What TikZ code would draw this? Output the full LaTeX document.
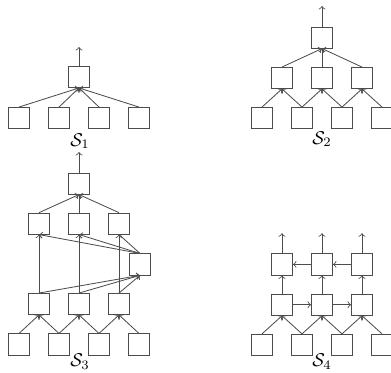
\documentclass[tikz,border=0pt]{standalone}
\usepackage{tikz}
\tikzset{
    every node/.style={
        text=black
    },
    every path/.style={
        color=black!70,
        line width=0.45pt
    }
}
\tikzstyle{cell}=[draw, minimum size=0.4cm, inner sep=0pt]
\tikzstyle{flow}=[->, >=to]

\begin{document}
\begin{tikzpicture}[x=0.76cm, y=0.76cm]
\useasboundingbox (0,0) rectangle (9.775,-9.3);

% S1
\node[cell] (A0) at (1.975, -1.925) {};
\node[cell] (A1) at (0.475, -2.95) {};
\node[cell] (A2) at (1.475, -2.95) {};
\node[cell] (A3) at (2.475, -2.95) {};
\node[cell] (A4) at (3.475, -2.95) {};
\node (LA) at (2.0, -3.53) {$\mathcal{S}_1$};
\coordinate (OA) at (1.975, -1.175);

\path [flow] (A1.north) edge (A0.south);
\path [flow] (A2.north) edge (A0.south);
\path [flow] (A3.north) edge (A0.south);
\path [flow] (A4.north) edge (A0.south);
\draw [flow] (A0) -- (OA);

% S2
\node[cell] (B0) at (8.05, -0.94) {};
\node[cell] (B5) at (7.05, -1.95) {};
\node[cell] (B6) at (8.05, -1.95) {};
\node[cell] (B7) at (9.05, -1.95) {};
\node[cell] (B1) at (6.55, -2.95) {};
\node[cell] (B2) at (7.55, -2.95) {};
\node[cell] (B3) at (8.55, -2.95) {};
\node[cell] (B4) at (9.55, -2.95) {};
\node (LB) at (8.05, -3.48) {$\mathcal{S}_2$};
\coordinate (OB) at (8.05, -0.15);

\path [flow] (B1.north) edge (B5.south);
\path [flow] (B2.north) edge (B5.south);
\path [flow] (B2.north) edge (B6.south);
\path [flow] (B3.north) edge (B6.south);
\path [flow] (B3.north) edge (B7.south);
\path [flow] (B4.north) edge (B7.south);
\path [flow] (B5.north) edge (B0.south);
\path [flow] (B6.north) edge (B0.south);
\path [flow] (B7.north) edge (B0.south);
\draw [flow] (B0) -- (OB);

% S3
\node[cell] (C0) at (1.975, -4.59) {};
\node[cell] (C8) at (0.975, -5.59) {};
\node[cell] (C9) at (1.975, -5.59) {};
\node[cell] (C10) at (2.975, -5.59) {};
\node[cell] (CR) at (3.5, -6.61) {};
\node[cell] (C5) at (0.975, -7.6) {};
\node[cell] (C6) at (1.975, -7.6) {};
\node[cell] (C7) at (2.975, -7.6) {};
\node[cell] (C1) at (0.475, -8.61) {};
\node[cell] (C2) at (1.475, -8.61) {};
\node[cell] (C3) at (2.475, -8.61) {};
\node[cell] (C4) at (3.475, -8.61) {};
\node (LC) at (2.0, -9.04) {$\mathcal{S}_3$};
\coordinate (OC) at (1.975, -3.8);

\path [flow] (C1.north) edge (C5.south);
\path [flow] (C2.north) edge (C5.south);
\path [flow] (C2.north) edge (C6.south);
\path [flow] (C3.north) edge (C6.south);
\path [flow] (C3.north) edge (C7.south);
\path [flow] (C4.north) edge (C7.south);
\path [flow] (C5.north) edge (C8.south);
\path [flow] (C6.north) edge (C9.south);
\path [flow] (C7.north) edge (C10.south);
\path [flow] (C5.north) edge (CR.south);
\path [flow] (C6.north) edge (CR.south);
\path [flow] (C7.north) edge (CR.south);
\path [flow] (CR.north) edge (C8.south);
\path [flow] (CR.north) edge (C9.south);
\path [flow] (CR.north) edge (C10.south);
\path [flow] (C8.north) edge (C0.south);
\path [flow] (C9.north) edge (C0.south);
\path [flow] (C10.north) edge (C0.south);
\draw [flow] (C0) -- (OC);

% S4
\node[cell] (D8) at (7.05, -6.61) {};
\node[cell] (D9) at (8.05, -6.61) {};
\node[cell] (D10) at (9.05, -6.61) {};
\node[cell] (D5) at (7.05, -7.62) {};
\node[cell] (D6) at (8.05, -7.62) {};
\node[cell] (D7) at (9.05, -7.62) {};
\node[cell] (D1) at (6.55, -8.62) {};
\node[cell] (D2) at (7.55, -8.62) {};
\node[cell] (D3) at (8.55, -8.62) {};
\node[cell] (D4) at (9.55, -8.62) {};
\node (LD) at (8.05, -9.04) {$\mathcal{S}_4$};
\coordinate (OD8) at (7.05, -5.83);
\coordinate (OD9) at (8.05, -5.83);
\coordinate (OD10) at (9.05, -5.83);

\path [flow] (D1.north) edge (D5.south);
\path [flow] (D2.north) edge (D5.south);
\path [flow] (D2.north) edge (D6.south);
\path [flow] (D3.north) edge (D6.south);
\path [flow] (D3.north) edge (D7.south);
\path [flow] (D4.north) edge (D7.south);
\path [flow] (D5) edge (D6);
\path [flow] (D6) edge (D7);
\path [flow] (D10) edge (D9);
\path [flow] (D9) edge (D8);
\path [flow] (D5) edge (D8);
\path [flow] (D6) edge (D9);
\path [flow] (D7) edge (D10);
\draw [flow] (D8) -- (OD8);
\draw [flow] (D9) -- (OD9);
\draw [flow] (D10) -- (OD10);

\end{tikzpicture}
\end{document}
